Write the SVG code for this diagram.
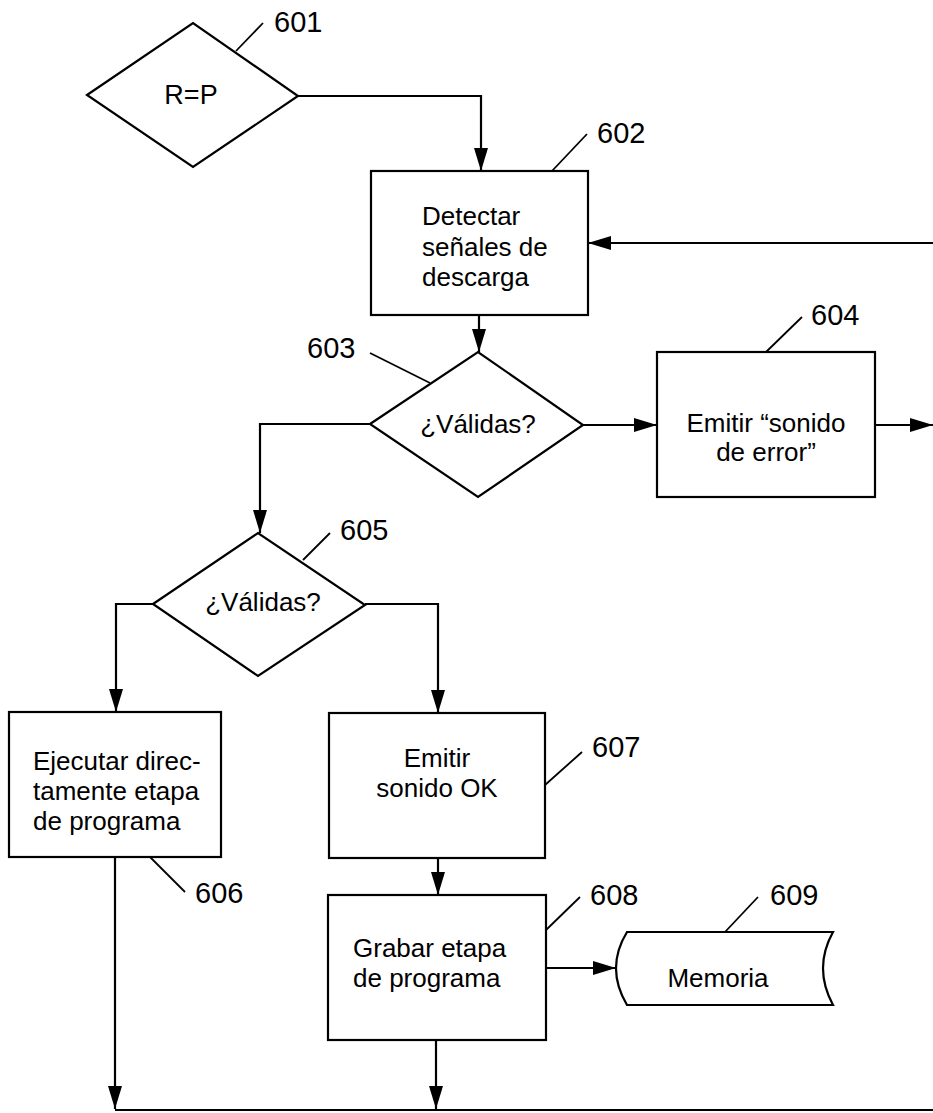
<svg xmlns="http://www.w3.org/2000/svg" width="933" height="1113" viewBox="0 0 933 1113">
<defs>
<marker id="ah" markerUnits="userSpaceOnUse" markerWidth="24" markerHeight="16" refX="23" refY="8" orient="auto">
<path d="M0,1 L23,8 L0,15 z" fill="#000"/>
</marker>
<style>
.s{fill:#fff;stroke:#000;stroke-width:2.2}
.c{fill:none;stroke:#000;stroke-width:2.2}
.l{fill:none;stroke:#000;stroke-width:1.8}
.t{font-family:"Liberation Sans",Arial,sans-serif;font-size:26px;fill:#000}
.m{text-anchor:middle}
.n{font-family:"Liberation Sans",Arial,sans-serif;font-size:29px;fill:#000}
</style>
</defs>
<rect width="933" height="1113" fill="#fff"/>
<g id="connectors">
<path class="c" d="M298,96 H481 V171" marker-end="url(#ah)"/>
<path class="c" d="M933,243 H588" marker-end="url(#ah)"/>
<path class="c" d="M479,315 V352" marker-end="url(#ah)"/>
<path class="c" d="M583,425 H657" marker-end="url(#ah)"/>
<path class="c" d="M875,425 H933" marker-end="url(#ah)"/>
<path class="c" d="M370,424 H260 V533" marker-end="url(#ah)"/>
<path class="c" d="M153,604 H116 V712" marker-end="url(#ah)"/>
<path class="c" d="M365,604 H438 V713" marker-end="url(#ah)"/>
<path class="c" d="M438,858 V895" marker-end="url(#ah)"/>
<path class="c" d="M546,968 H616" marker-end="url(#ah)"/>
<path class="c" d="M436,1040 V1109" marker-end="url(#ah)"/>
<path class="c" d="M115,857 V1109" marker-end="url(#ah)"/>
<path class="c" d="M115,1110 H933"/>
</g>
<g id="n601">
<polygon class="s" points="87,95 193,23 298,96 193,167"/>
<text class="t m" x="191" y="104" style="font-size:27px">R=P</text>
<line class="l" x1="236" y1="51" x2="263" y2="23"/>
<text class="n" x="274" y="32">601</text>
</g>
<g id="n602">
<rect class="s" x="371" y="171" width="217" height="144"/>
<text class="t" x="422" y="225">Detectar</text>
<text class="t" x="422" y="256">señales de</text>
<text class="t" x="422" y="286">descarga</text>
<line class="l" x1="552" y1="171" x2="587" y2="134"/>
<text class="n" x="597" y="143">602</text>
</g>
<g id="n603">
<polygon class="s" points="370,424 478,352 583,425 478,497"/>
<text class="t m" x="478" y="433">¿Válidas?</text>
<line class="l" x1="370" y1="353" x2="430" y2="383"/>
<text class="n" x="307" y="358">603</text>
</g>
<g id="n604">
<rect class="s" x="657" y="352" width="218" height="145"/>
<text class="t m" x="766" y="432">Emitir “sonido</text>
<text class="t m" x="766" y="461">de error”</text>
<line class="l" x1="766" y1="352" x2="802" y2="317"/>
<text class="n" x="811" y="325">604</text>
</g>
<g id="n605">
<polygon class="s" points="153,604 258,533 365,605 258,676"/>
<text class="t m" x="263" y="611">¿Válidas?</text>
<line class="l" x1="303" y1="560" x2="330" y2="533"/>
<text class="n" x="340" y="540">605</text>
</g>
<g id="n606">
<rect class="s" x="9" y="712" width="212" height="145"/>
<text class="t" x="33" y="770">Ejecutar direc-</text>
<text class="t" x="33" y="800">tamente etapa</text>
<text class="t" x="33" y="830">de programa</text>
<line class="l" x1="150" y1="857" x2="185" y2="892"/>
<text class="n" x="195" y="903">606</text>
</g>
<g id="n607">
<rect class="s" x="329" y="713" width="216" height="145"/>
<text class="t m" x="437" y="767">Emitir</text>
<text class="t m" x="437" y="797">sonido OK</text>
<line class="l" x1="545" y1="785" x2="582" y2="752"/>
<text class="n" x="592" y="757">607</text>
</g>
<g id="n608">
<rect class="s" x="328" y="895" width="218" height="145"/>
<text class="t" x="353" y="957">Grabar etapa</text>
<text class="t" x="353" y="987">de programa</text>
<line class="l" x1="546" y1="930" x2="580" y2="897"/>
<text class="n" x="590" y="905">608</text>
</g>
<g id="n609">
<path class="s" d="M627,932 H833 Q813,968 833,1005 H627 Q605,968 627,932 Z"/>
<text class="t m" x="718" y="987">Memoria</text>
<line class="l" x1="725" y1="932" x2="758" y2="897"/>
<text class="n" x="770" y="905">609</text>
</g>
</svg>
